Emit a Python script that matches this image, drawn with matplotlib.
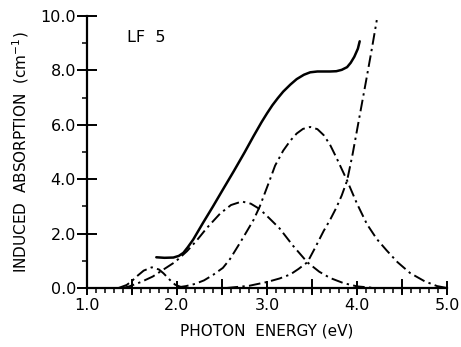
import matplotlib
matplotlib.use("Agg")
import matplotlib.pyplot as plt
from matplotlib.ticker import MultipleLocator, FormatStrFormatter

# ---- data ----
solid_E = [1.77, 1.86, 1.96, 2.02, 2.07, 2.12, 2.18, 2.29, 2.40, 2.51, 2.63, 2.75, 2.85,
           2.94, 3.00, 3.06, 3.12, 3.18, 3.26, 3.33, 3.41, 3.48, 3.56, 3.63, 3.70, 3.77,
           3.83, 3.89, 3.93, 3.97, 4.01, 4.03]
solid_A = [1.13, 1.11, 1.12, 1.18, 1.29, 1.50, 1.78, 2.40, 3.00, 3.62, 4.29, 4.98, 5.58,
           6.10, 6.42, 6.72, 6.98, 7.22, 7.48, 7.68, 7.84, 7.93, 7.96, 7.96, 7.96, 7.97,
           8.02, 8.12, 8.28, 8.50, 8.80, 9.07]

g1_E = [1.35, 1.44, 1.50, 1.55, 1.63, 1.72, 1.80, 1.85, 1.92, 1.98, 2.05, 2.12]
g1_A = [0.00, 0.11, 0.26, 0.42, 0.64, 0.76, 0.68, 0.54, 0.30, 0.12, 0.03, 0.00]

g2_E = [1.40, 1.47, 1.60, 1.73, 1.85, 1.98, 2.11, 2.22, 2.33, 2.48, 2.60, 2.72,
        2.82, 2.92, 3.03, 3.14, 3.29, 3.45, 3.58, 3.70, 3.85, 4.00, 4.20]
g2_A = [0.00, 0.06, 0.22, 0.42, 0.68, 0.96, 1.35, 1.75, 2.20, 2.74, 3.05, 3.18,
        3.10, 2.90, 2.55, 2.19, 1.55, 0.94, 0.60, 0.37, 0.18, 0.06, 0.00]

g3_E = [2.00, 2.10, 2.20, 2.30, 2.40, 2.51, 2.59, 2.70, 2.77, 2.85, 2.92, 3.03, 3.09,
        3.18, 3.26, 3.33, 3.40, 3.48, 3.56, 3.63, 3.70, 3.77, 3.89, 4.00, 4.11, 4.22,
        4.33, 4.45, 4.59, 4.75, 4.89, 5.00]
g3_A = [0.02, 0.07, 0.15, 0.28, 0.48, 0.74, 1.07, 1.66, 2.05, 2.50, 3.00, 3.96, 4.50,
        5.05, 5.42, 5.68, 5.85, 5.92, 5.84, 5.62, 5.27, 4.80, 3.95, 3.10, 2.35, 1.80,
        1.38, 0.95, 0.55, 0.25, 0.07, 0.00]

g4_E = [2.55, 2.80, 3.00, 3.14, 3.26, 3.35, 3.45, 3.53, 3.63, 3.70, 3.77, 3.83, 3.89,
        3.95, 4.00, 4.05, 4.10, 4.16, 4.22]
g4_A = [0.00, 0.08, 0.22, 0.35, 0.50, 0.70, 0.95, 1.45, 2.10, 2.50, 2.95, 3.40, 3.95,
        4.90, 5.80, 6.70, 7.60, 8.70, 9.85]

x_ticks = [1.0, 2.0, 3.0, 4.0, 5.0]
y_ticks = [0.0, 2.0, 4.0, 6.0, 8.0, 10.0]

# ---- figure ----
plt.rcParams['font.family'] = ['DejaVu Sans']
fig = plt.figure(figsize=(4.61, 3.47), dpi=100)
ax = fig.add_axes([87/461, 1 - 288/347, 360/461, 272/347])

dash = (0, (6, 2.2, 1.2, 2.2))
ax.plot(solid_E, solid_A, color='black', lw=1.8, solid_capstyle='round')
for e, a in [(g1_E, g1_A), (g2_E, g2_A), (g3_E, g3_A), (g4_E, g4_A)]:
    ax.plot(e, a, color='black', lw=1.4, linestyle=dash)

ax.set_xlim(1.0, 5.0)
ax.set_ylim(0.0, 10.0)
for s in ['top', 'right']:
    ax.spines[s].set_visible(False)
for s in ['left', 'bottom']:
    ax.spines[s].set_linewidth(1.6)

ax.set_xticks(x_ticks)
ax.xaxis.set_major_formatter(FormatStrFormatter('%.1f'))
ax.xaxis.set_minor_locator(MultipleLocator(0.1))
ax.set_yticks(y_ticks)
ax.yaxis.set_major_formatter(FormatStrFormatter('%.1f'))
ax.yaxis.set_minor_locator(MultipleLocator(1.0))

# extra major-style ticks at the half-eV marks
for xv in [1.5, 2.5, 3.5, 4.5]:
    ax.plot([xv, xv], [-0.22, 0.3], color='black', lw=1.4, clip_on=False)

ax.tick_params(axis='x', which='major', direction='inout', length=10, width=1.4,
               labelsize=11.5, pad=2)
ax.tick_params(axis='x', which='minor', direction='out', length=3.5, width=1.1)
ax.tick_params(axis='y', which='major', direction='inout', length=14, width=1.4,
               labelsize=11.5, pad=1)
ax.tick_params(axis='y', which='minor', direction='out', length=3.5, width=1.1)

ax.set_xlabel('PHOTON  ENERGY (eV)', fontsize=11, labelpad=8)
ax.set_ylabel('INDUCED  ABSORPTION  (cm$^{-1}$)', fontsize=11, labelpad=7)
ax.text(1.44, 9.2, 'LF  5', fontsize=11.5, ha='left', va='center')

fig.savefig('out.png', dpi=100)
